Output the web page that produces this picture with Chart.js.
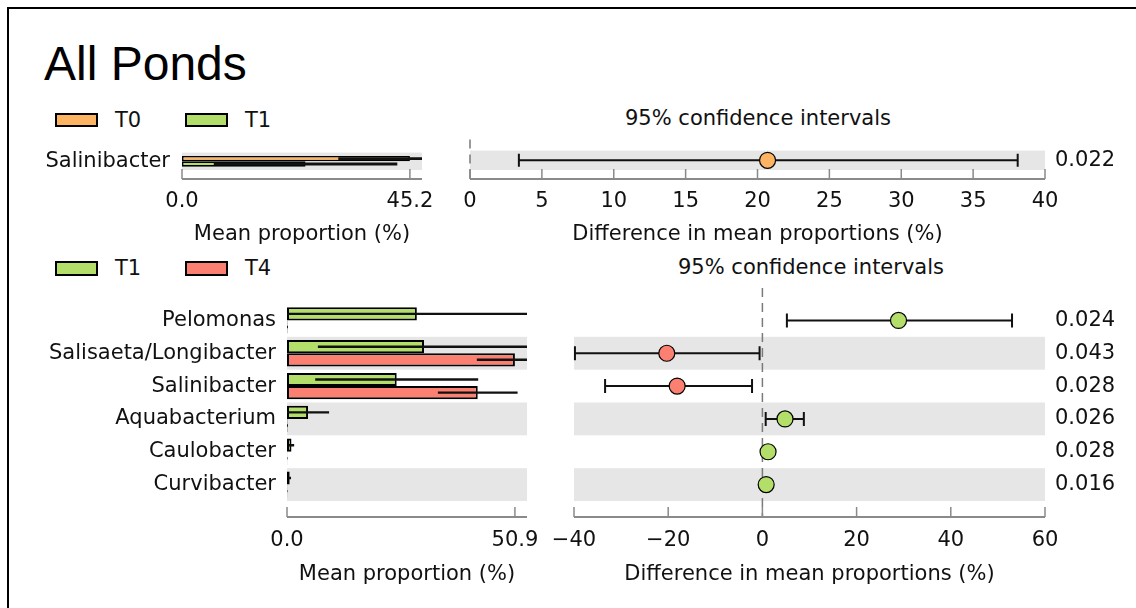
<!DOCTYPE html>
<html lang="en">
<head>
<meta charset="UTF-8">
<title>All Ponds</title>
<script src="https://cdn.jsdelivr.net/npm/chart.js"></script>
<style>
  body {
    margin: 0;
    width: 1136px;
    height: 608px;
    position: relative;
    background: #fff;
    font-family: 'DejaVu Sans', sans-serif;
    color: #111;
    overflow: hidden;
  }
  #frame {
    position: absolute;
    left: 7px; top: 7px; right: 0; bottom: 0;
    border-top: 2px solid #000;
    border-left: 2px solid #000;
  }
  .title {
    position: absolute;
    left: 44px; top: 40px;
    font-family: 'Liberation Sans', Arial, sans-serif;
    font-size: 48px;
    line-height: 48px;
    color: #000;
  }
  canvas { position: absolute; }
  .legend { position: absolute; left: 0; width: 400px; height: 30px; font-size: 21px; line-height: 24px; }
  .legend .swatch { position: absolute; width: 39px; border: 2px solid #000; }
  .legend .label { position: absolute; white-space: nowrap; }
  .ci-title {
    position: absolute;
    width: 400px;
    text-align: center;
    font-size: 21px;
    line-height: 24px;
  }
</style>
</head>
<body>
<div id="frame"></div>
<div class="title">All Ponds</div>

<div class="legend" id="legend-top" style="top:108px"></div>
<div class="ci-title" style="left:558px; top:106px">95% confidence intervals</div>
<canvas id="top-bars" width="420" height="122" style="left:20px; top:128px"></canvas>
<canvas id="top-ci" width="676" height="122" style="left:460px; top:128px"></canvas>

<div class="legend" id="legend-bottom" style="top:256px"></div>
<div class="ci-title" style="left:611px; top:255px">95% confidence intervals</div>
<canvas id="bottom-bars" width="520" height="320" style="left:20px; top:280px"></canvas>
<canvas id="bottom-ci" width="596" height="320" style="left:540px; top:280px"></canvas>

<script>
// ---- data: top comparison (T0 vs T1) ----
const topCategories = ['Salinibacter'];
const topGroups = ['T0', 'T1'];
const topMeanT0 = [45.2];
const topSdT0 = [14.2];
const topMeanT1 = [24.5];
const topSdT1 = [18.2];
const topDiff = [20.7];
const topCiLow = [3.4];
const topCiHigh = [38.1];
const topPValues = ['0.022'];
const topBarTicks = [0.0, 45.2];
const topDiffTicks = [0, 5, 10, 15, 20, 25, 30, 35, 40];

// ---- data: bottom comparison (T1 vs T4) ----
const bottomCategories = ['Pelomonas', 'Salisaeta/Longibacter', 'Salinibacter',
                          'Aquabacterium', 'Caulobacter', 'Curvibacter'];
const bottomGroups = ['T1', 'T4'];
const bottomMeanT1 = [29.0, 30.6, 24.5, 4.7, 1.0, 0.6];
const bottomSdT1 = [30.0, 23.7, 18.2, 4.7, 0.6, 0.3];
const bottomMeanT4 = [0.1, 50.9, 42.6, 0.1, 0.05, 0.05];
const bottomSdT4 = [0.1, 8.5, 8.9, 0.1, 0.05, 0.05];
const bottomDiff = [28.9, -20.3, -18.1, 4.8, 1.2, 0.8];
const bottomCiLow = [5.2, -39.8, -33.4, 0.7, 0.4, 0.3];
const bottomCiHigh = [53.0, -0.6, -2.2, 8.8, 2.0, 1.3];
const bottomPValues = ['0.024', '0.043', '0.028', '0.026', '0.028', '0.016'];
const bottomBarTicks = [0.0, 50.9];
const bottomDiffTicks = [-40, -20, 0, 20, 40, 60];

const COLOR_T0 = '#fdb462';
const COLOR_T1 = '#b3de69';
const COLOR_T4 = '#fb8072';
const BAND = '#e6e6e6';
const AXIS = '#8a8a8a';

Chart.defaults.font.family = "'DejaVu Sans', sans-serif";
Chart.defaults.font.size = 21;
Chart.defaults.color = '#111';

// shaded rows, zero line, error bars and the inward-tick axis
const stampPlugin = {
  id: 'stamp',
  beforeDatasetsDraw(chart, args, opts) {
    const { ctx, chartArea: a } = chart;
    const x = chart.scales.x, y = chart.scales.y;
    const n = chart.data.labels.length;
    const rowH = a.height / n;
    ctx.save();
    ctx.fillStyle = BAND;
    for (let i = 0; i < n; i++) {
      if ((n - 1 - i) % 2 === 0) {
        const cy = y.getPixelForValue(i);
        ctx.fillRect(a.left, cy - rowH / 2, a.width, rowH);
      }
    }
    if (chart.config.type === 'scatter') {
      const zx = x.getPixelForValue(0);
      ctx.strokeStyle = '#7a7a7a';
      ctx.lineWidth = 1.5;
      ctx.setLineDash([9, 6]);
      ctx.beginPath();
      ctx.moveTo(zx, a.top - opts.zeroExt);
      ctx.lineTo(zx, a.bottom + opts.axisGap);
      ctx.stroke();
      ctx.setLineDash([]);

      const ds = chart.data.datasets[0];
      const meta = chart.getDatasetMeta(0);
      ctx.strokeStyle = '#111';
      ctx.lineWidth = 2;
      ctx.beginPath();
      meta.data.forEach((pt, i) => {
        const x0 = x.getPixelForValue(ds.ciLow[i]);
        const x1 = x.getPixelForValue(ds.ciHigh[i]);
        ctx.moveTo(x0, pt.y); ctx.lineTo(x1, pt.y);
        ctx.moveTo(x0, pt.y - opts.cap); ctx.lineTo(x0, pt.y + opts.cap);
        ctx.moveTo(x1, pt.y - opts.cap); ctx.lineTo(x1, pt.y + opts.cap);
      });
      ctx.stroke();
    }
    ctx.restore();
  },
  afterDatasetsDraw(chart, args, opts) {
    if (chart.config.type !== 'bar') return;
    const { ctx, chartArea: a } = chart;
    const x = chart.scales.x;
    ctx.save();
    ctx.beginPath();
    ctx.rect(a.left, a.top, a.width, a.height);
    ctx.clip();
    ctx.strokeStyle = '#111';
    ctx.lineWidth = opts.errWidth;
    ctx.beginPath();
    chart.data.datasets.forEach((ds, k) => {
      chart.getDatasetMeta(k).data.forEach((bar, i) => {
        const lo = ds.data[i] - ds.sd[i], hi = ds.data[i] + ds.sd[i];
        ctx.moveTo(x.getPixelForValue(lo), bar.y);
        ctx.lineTo(x.getPixelForValue(hi), bar.y);
      });
    });
    ctx.stroke();
    ctx.restore();
  },
  afterDraw(chart, args, opts) {
    const { ctx, chartArea: a } = chart;
    const x = chart.scales.x;
    const ay = a.bottom + opts.axisGap;
    ctx.save();
    ctx.strokeStyle = AXIS;
    ctx.lineWidth = 2;
    ctx.beginPath();
    ctx.moveTo(a.left, ay); ctx.lineTo(a.right, ay);
    ctx.stroke();
    ctx.lineWidth = 1.5;
    ctx.beginPath();
    x.ticks.forEach(t => {
      const px = x.getPixelForValue(t.value);
      ctx.moveTo(px, ay); ctx.lineTo(px, ay - 10);
    });
    ctx.stroke();
    ctx.restore();
  }
};

function fixedTicks(values) {
  return scale => { scale.ticks = values.map(v => ({ value: v })); };
}

function makeBarChart(id, cats, groups, means, sds, colors, xMax, tickValues, o) {
  return new Chart(document.getElementById(id), {
    type: 'bar',
    data: {
      labels: cats,
      datasets: groups.map((g, k) => ({
        label: g,
        data: means[k],
        sd: sds[k],
        backgroundColor: colors[k],
        borderColor: '#000',
        borderWidth: o.borderWidth,
        borderSkipped: false,
        categoryPercentage: o.catPct,
        barPercentage: 1
      }))
    },
    options: {
      indexAxis: 'y',
      responsive: false,
      animation: false,
      events: [],
      layout: { padding: { top: o.padTop, right: o.padRight, left: 0, bottom: 0 } },
      plugins: {
        legend: { display: false },
        tooltip: { enabled: false },
        stamp: { axisGap: o.axisGap, errWidth: o.errWidth }
      },
      scales: {
        x: {
          min: 0, max: xMax,
          afterBuildTicks: fixedTicks(tickValues),
          afterFit: s => { s.height = o.xHeight; s.paddingLeft = 0; s.paddingRight = 0; },
          grid: { display: false, drawTicks: false },
          border: { display: false },
          ticks: { padding: o.tickPad, autoSkip: false, maxRotation: 0, callback: v => v.toFixed(1) },
          title: { display: true, text: 'Mean proportion (%)', padding: { top: 0, bottom: o.titlePad } }
        },
        y: {
          afterFit: s => { s.width = o.yWidth; },
          grid: { display: false, drawTicks: false },
          border: { display: false },
          ticks: { padding: o.labelPad, autoSkip: false }
        }
      }
    },
    plugins: [stampPlugin]
  });
}

function makeCiChart(id, cats, diffs, lows, highs, pvals, posColor, negColor, xMin, xMax, tickValues, o) {
  return new Chart(document.getElementById(id), {
    type: 'scatter',
    data: {
      labels: cats,
      datasets: [{
        data: diffs.map((d, i) => ({ x: d, y: cats[i] })),
        ciLow: lows,
        ciHigh: highs,
        pointRadius: 8,
        pointBorderWidth: 1.2,
        pointBorderColor: '#000',
        pointBackgroundColor: diffs.map(d => d > 0 ? posColor : negColor)
      }]
    },
    options: {
      responsive: false,
      animation: false,
      events: [],
      layout: { padding: { top: o.padTop, left: o.padLeft, right: 0, bottom: 0 } },
      plugins: {
        legend: { display: false },
        tooltip: { enabled: false },
        stamp: { axisGap: o.axisGap, zeroExt: o.zeroExt, cap: o.cap }
      },
      scales: {
        x: {
          type: 'linear',
          min: xMin, max: xMax,
          afterBuildTicks: fixedTicks(tickValues),
          afterFit: s => { s.height = o.xHeight; s.paddingLeft = 0; s.paddingRight = 0; },
          grid: { display: false, drawTicks: false },
          border: { display: false },
          ticks: {
            padding: o.tickPad, autoSkip: false, maxRotation: 0,
            callback: v => v < 0 ? '\u2212' + Math.abs(v) : String(v)
          },
          title: { display: true, text: 'Difference in mean proportions (%)', padding: { top: 0, bottom: o.titlePad } }
        },
        y: { type: 'category', labels: cats, offset: true, display: false },
        p: {
          type: 'category',
          labels: pvals,
          offset: true,
          position: 'right',
          afterFit: s => { s.width = 91; },
          grid: { display: false, drawTicks: false },
          border: { display: false },
          ticks: { padding: 10, autoSkip: false }
        }
      }
    },
    plugins: [stampPlugin]
  });
}

function makeLegend(id, groups, colors, swTop, swHeight) {
  const el = document.getElementById(id);
  const offsets = [55, 185];
  groups.forEach((g, k) => {
    const sw = document.createElement('div');
    sw.className = 'swatch';
    sw.style.left = offsets[k] + 'px';
    sw.style.top = swTop + 'px';
    sw.style.height = swHeight + 'px';
    sw.style.background = colors[k];
    el.appendChild(sw);
    const lab = document.createElement('div');
    lab.className = 'label';
    lab.style.left = (offsets[k] + 60) + 'px';
    lab.style.top = '0px';
    lab.textContent = g;
    el.appendChild(lab);
  });
}

makeLegend('legend-top', topGroups, [COLOR_T0, COLOR_T1], 5, 10);
makeLegend('legend-bottom', bottomGroups, [COLOR_T1, COLOR_T4], 5, 11);

makeBarChart('top-bars', topCategories, topGroups, [topMeanT0, topMeanT1], [topSdT0, topSdT1],
  [COLOR_T0, COLOR_T1], 47.6, topBarTicks,
  { padTop: 20, padRight: 18, yWidth: 162, xHeight: 80, tickPad: 19, titlePad: 3,
    labelPad: 12, catPct: 0.62, axisGap: 9, errWidth: 2.8, borderWidth: 1.6 });

makeCiChart('top-ci', topCategories, topDiff, topCiLow, topCiHigh, topPValues,
  COLOR_T0, COLOR_T1, 0, 40, topDiffTicks,
  { padTop: 20, padLeft: 10, xHeight: 80, tickPad: 19, titlePad: 3, axisGap: 9, zeroExt: 11, cap: 6.5 });

makeBarChart('bottom-bars', bottomCategories, bottomGroups, [bottomMeanT1, bottomMeanT4], [bottomSdT1, bottomSdT4],
  [COLOR_T1, COLOR_T4], 53.6, bottomBarTicks,
  { padTop: 24, padRight: 13, yWidth: 267, xHeight: 99, tickPad: 27, titlePad: 13,
    labelPad: 11, catPct: 0.8, axisGap: 16, errWidth: 2.4, borderWidth: 2 });

makeCiChart('bottom-ci', bottomCategories, bottomDiff, bottomCiLow, bottomCiHigh, bottomPValues,
  COLOR_T1, COLOR_T4, -40, 60, bottomDiffTicks,
  { padTop: 24, padLeft: 34, xHeight: 99, tickPad: 27, titlePad: 13, axisGap: 16, zeroExt: 16, cap: 7 });
</script>
</body>
</html>
